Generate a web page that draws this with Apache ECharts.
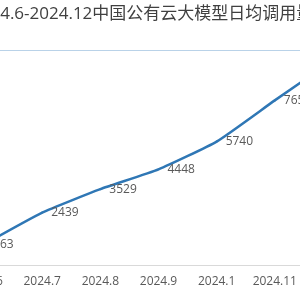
<!DOCTYPE html>
<html>
<head>
<meta charset="utf-8">
<script src="https://cdn.jsdelivr.net/npm/echarts@6/dist/echarts.min.js"></script>
<style>
html,body{margin:0;padding:0;width:300px;height:300px;overflow:hidden;background:#fff;}
#chart{position:absolute;left:-100px;top:0;width:500px;height:300px;}
</style>
</head>
<body>
<div id="chart"></div>
<script>
const titleText = '2024.6-2024.12中国公有云大模型日均调用量';
const categories = ['2024.6', '2024.7', '2024.8', '2024.9', '2024.1', '2024.11', '2024.12'];
const dailyCalls = [963, 2439, 3529, 4448, 5740, 7656, 9522];
const yMin = 0, yMax = 10000, yInterval = 10000;

const chart = echarts.init(document.getElementById('chart'), null, {renderer: 'canvas'});
chart.setOption({
  animation: false,
  backgroundColor: '#ffffff',
  title: {
    text: titleText,
    left: 66,
    top: 1,
    textStyle: {
      fontFamily: '"Open Sans", "Noto Sans CJK SC", sans-serif',
      fontSize: 17,
      fontWeight: 'normal',
      color: '#404040'
    }
  },
  grid: {left: 55, right: 38, top: 50, bottom: 35, containLabel: false},
  xAxis: {
    type: 'category',
    data: categories,
    boundaryGap: true,
    axisTick: {show: false},
    axisLine: {lineStyle: {color: '#d9d9d9', width: 1}},
    axisLabel: {
      color: '#595959',
      fontSize: 12,
      fontFamily: '"Open Sans", sans-serif',
      margin: 11
    }
  },
  yAxis: {
    type: 'value',
    min: yMin,
    max: yMax,
    interval: yInterval,
    axisLabel: {show: false},
    axisLine: {show: false},
    axisTick: {show: false},
    splitLine: {lineStyle: {color: '#b9d2e8', width: 1}}
  },
  series: [{
    type: 'line',
    data: dailyCalls,
    smooth: 0.15,
    symbol: 'circle',
    symbolSize: 2,
    itemStyle: {color: '#2f77b5'},
    lineStyle: {color: '#2f77b5', width: 2.5},
    label: {
      show: true,
      position: 'right',
      distance: 8,
      color: '#595959',
      fontSize: 12,
      fontFamily: '"Open Sans", sans-serif'
    }
  }]
});
</script>
</body>
</html>
